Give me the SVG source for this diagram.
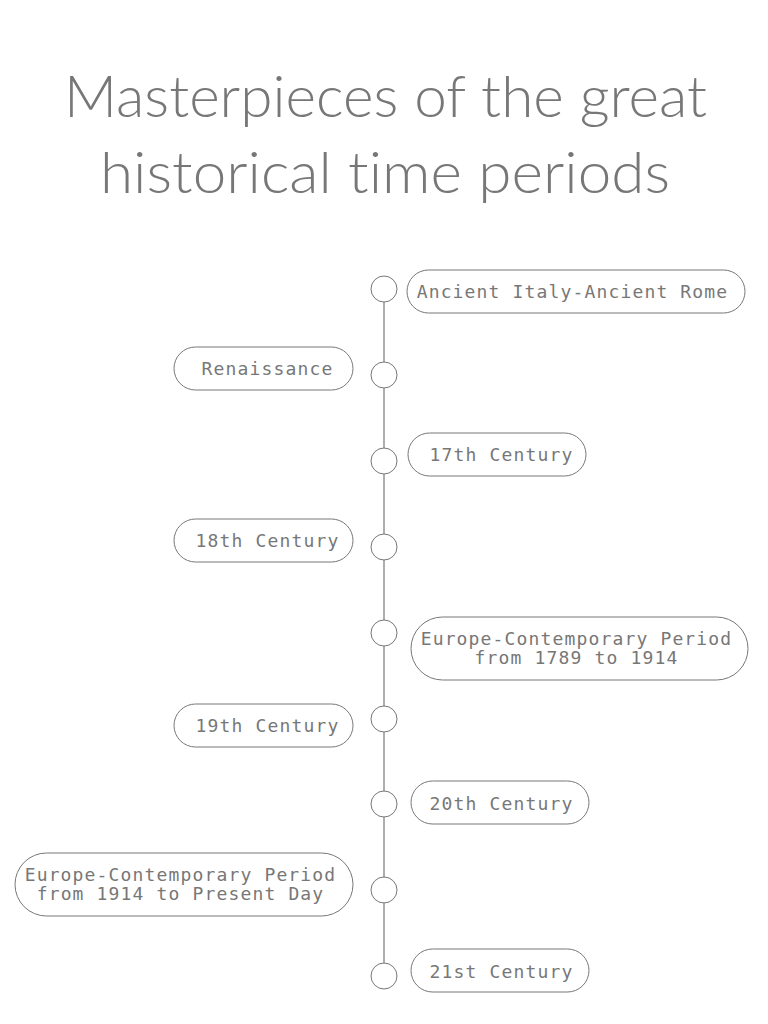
<svg xmlns="http://www.w3.org/2000/svg" width="768" height="1024" viewBox="0 0 768 1024">
<style>
.title{font-family:Lato,"Open Sans",sans-serif;font-weight:300;font-size:58px;fill:#777;text-anchor:middle;font-variant-ligatures:none;font-feature-settings:"liga" 0}
.box{fill:#fff;stroke:#777;stroke-width:1}
.dot{fill:#fff;stroke:#777;stroke-width:1}
.lbl{font-family:"DejaVu Sans Mono",monospace;font-size:18px;letter-spacing:1.15px;fill:#777;text-anchor:middle}
.line{stroke:#777;stroke-width:1.2;fill:none}
</style>
<rect width="768" height="1024" fill="#fff"/>
<g id="title">
<text class="title" x="385.5" y="117" textLength="643" lengthAdjust="spacingAndGlyphs">Masterpieces of the great</text>
<text class="title" x="385" y="193" textLength="570" lengthAdjust="spacingAndGlyphs">historical time periods</text>
</g>
<g id="connectors">
<line class="line" x1="384" y1="302" x2="384" y2="963"/>
</g>
<g id="n1"><circle class="dot" cx="384" cy="289" r="13"/><rect class="box" x="407" y="270" width="338" height="43" rx="21.5"/><text class="lbl" x="572.5" y="298">Ancient Italy-Ancient Rome</text></g>
<g id="n2"><circle class="dot" cx="384" cy="375" r="13"/><rect class="box" x="174" y="347" width="179" height="43" rx="21.5"/><text class="lbl" x="267.5" y="375">Renaissance</text></g>
<g id="n3"><circle class="dot" cx="384" cy="461" r="13"/><rect class="box" x="408" y="433" width="178" height="43" rx="21.5"/><text class="lbl" x="501.5" y="461">17th Century</text></g>
<g id="n4"><circle class="dot" cx="384" cy="547" r="13"/><rect class="box" x="174" y="519" width="179" height="43" rx="21.5"/><text class="lbl" x="267.5" y="547">18th Century</text></g>
<g id="n5"><circle class="dot" cx="384" cy="633" r="13"/><rect class="box" x="411" y="617" width="337" height="63" rx="31.5"/><text class="lbl" x="576.5" y="645">Europe-Contemporary Period</text><text class="lbl" x="576.5" y="664">from 1789 to 1914</text></g>
<g id="n6"><circle class="dot" cx="384" cy="719" r="13"/><rect class="box" x="174" y="704" width="179" height="43" rx="21.5"/><text class="lbl" x="267.5" y="732">19th Century</text></g>
<g id="n7"><circle class="dot" cx="384" cy="804" r="13"/><rect class="box" x="411" y="781" width="178" height="43" rx="21.5"/><text class="lbl" x="501.5" y="810">20th Century</text></g>
<g id="n8"><circle class="dot" cx="384" cy="890" r="13"/><rect class="box" x="15" y="853" width="338" height="63" rx="31.5"/><text class="lbl" x="180.5" y="881">Europe-Contemporary Period</text><text class="lbl" x="180.5" y="900">from 1914 to Present Day</text></g>
<g id="n9"><circle class="dot" cx="384" cy="976" r="13"/><rect class="box" x="411" y="949" width="178" height="43" rx="21.5"/><text class="lbl" x="501.5" y="978">21st Century</text></g>
</svg>
